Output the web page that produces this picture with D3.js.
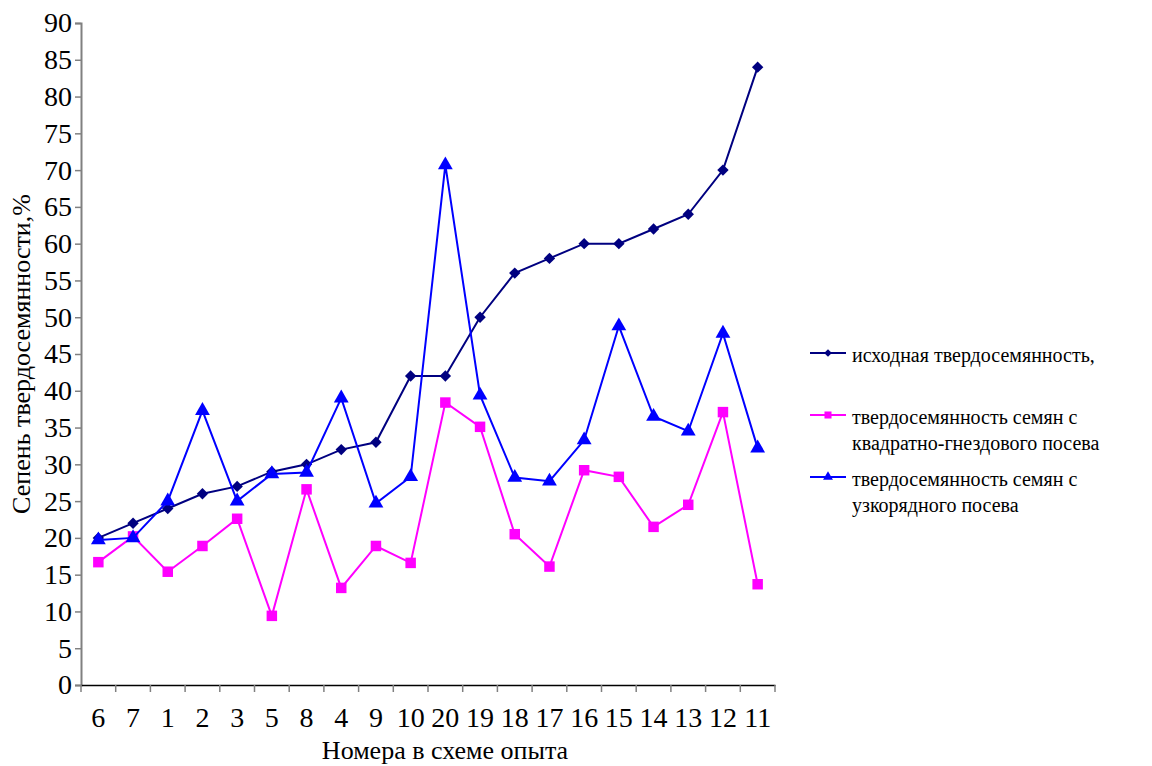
<!DOCTYPE html>
<html>
<head>
<meta charset="utf-8">
<script src="https://cdn.jsdelivr.net/npm/d3@7"></script>
<style>
  body { margin: 0; background: #fff; }
  svg { display: block; }
  svg text { font-family: "Liberation Serif", "DejaVu Serif", serif; }
</style>
</head>
<body>
<svg id="chart" width="1152" height="766"></svg>
<script>
  const categories = ["6", "7", "1", "2", "3", "5", "8", "4", "9", "10", "20", "19", "18", "17", "16", "15", "14", "13", "12", "11"];
  const initial = [20, 22, 24, 26, 27, 29, 30, 32, 33, 42, 42, 50, 56, 58, 60, 60, 62, 64, 70, 84];
  const squareNest = [16.7, 20.2, 15.4, 18.9, 22.6, 9.4, 26.6, 13.2, 18.9, 16.6, 38.4, 35.1, 20.5, 16.1, 29.2, 28.3, 21.5, 24.5, 37.1, 13.7];
  const narrowRow = [19.7, 20.0, 25.0, 37.3, 25.0, 28.7, 28.9, 39.0, 24.7, 28.3, 70.7, 39.4, 28.2, 27.7, 33.3, 48.8, 36.5, 34.5, 47.8, 32.2];
  const yTicks = d3.range(0, 91, 5);

  const series = [
    { name: ["исходная твердосемянность,"], values: initial, color: "#000080", shape: d3.symbolSquare, size: 65, rotate: 45 },
    { name: ["твердосемянность семян с", "квадратно-гнездового посева"], values: squareNest, color: "#FF00FF", shape: d3.symbolSquare, size: 110, rotate: 0 },
    { name: ["твердосемянность семян с", "узкорядного посева"], values: narrowRow, color: "#0000FF", shape: d3.symbolTriangle, size: 95, rotate: 0 }
  ];

  const svg = d3.select("#chart");
  const plot = { left: 81, right: 775, top: 23, bottom: 685 };

  const x = d3.scaleBand().domain(categories).range([plot.left, plot.right]);
  const y = d3.scaleLinear().domain([0, 90]).range([plot.bottom, plot.top]);

  // y axis
  const yAxis = svg.append("g")
    .attr("transform", `translate(${plot.left},0)`)
    .attr("font-size", 28)
    .call(d3.axisLeft(y).tickValues(yTicks).tickSize(6).tickPadding(3));
  yAxis.attr("font-family", null).attr("font-size", 28);
  yAxis.select(".domain").attr("stroke", "#808080").attr("stroke-width", 2);
  yAxis.selectAll(".tick line").attr("stroke", "#808080").attr("stroke-width", 1.5);
  yAxis.selectAll(".tick text").attr("font-size", 28).attr("fill", "#000");

  // x axis
  const xAxis = svg.append("g")
    .attr("transform", `translate(0,${plot.bottom})`)
    .call(d3.axisBottom(x).tickSize(0).tickPadding(22));
  xAxis.attr("font-family", null).attr("font-size", 28);
  xAxis.select(".domain").attr("stroke", "#000").attr("stroke-width", 1.5);
  xAxis.selectAll(".tick text").attr("font-size", 28).attr("fill", "#000");
  svg.append("g").selectAll("line")
    .data(categories.map((c) => x(c)).concat([plot.right]))
    .join("line")
    .attr("x1", (d) => d).attr("x2", (d) => d)
    .attr("y1", plot.bottom).attr("y2", plot.bottom + 7)
    .attr("stroke", "#808080").attr("stroke-width", 1.5);

  // axis titles
  svg.append("text")
    .attr("transform", `translate(30,${(plot.top + plot.bottom) / 2}) rotate(-90)`)
    .attr("text-anchor", "middle")
    .attr("font-size", 26)
    .text("Сепень твердосемянности,%");
  svg.append("text")
    .attr("x", 445).attr("y", 759)
    .attr("text-anchor", "middle")
    .attr("font-size", 26)
    .text("Номера в схеме опыта");

  // lines and markers
  const line = d3.line()
    .x((d, i) => x(categories[i]) + x.bandwidth() / 2)
    .y((d) => y(d));

  series.forEach((s) => {
    svg.append("path")
      .datum(s.values)
      .attr("fill", "none")
      .attr("stroke", s.color)
      .attr("stroke-width", 2)
      .attr("d", line);
    svg.append("g").selectAll("path")
      .data(s.values)
      .join("path")
      .attr("transform", (d, i) => `translate(${x(categories[i]) + x.bandwidth() / 2},${y(d)}) rotate(${s.rotate})`)
      .attr("d", d3.symbol().type(s.shape).size(s.size))
      .attr("fill", s.color);
  });

  // legend
  const legendY = [353, 415, 477];
  series.forEach((s, i) => {
    const g = svg.append("g").attr("transform", `translate(810,${legendY[i]})`);
    g.append("line").attr("x1", 0).attr("x2", 36).attr("stroke", s.color).attr("stroke-width", 2);
    g.append("path").attr("transform", `translate(18,0) rotate(${s.rotate})`)
      .attr("d", d3.symbol().type(s.shape).size(s.size * 0.45)).attr("fill", s.color);
    s.name.forEach((t, k) => {
      g.append("text")
        .attr("x", 42).attr("y", k * 26 + 9)
        .attr("font-size", 20)
        .text(t);
    });
  });
</script>
</body>
</html>
